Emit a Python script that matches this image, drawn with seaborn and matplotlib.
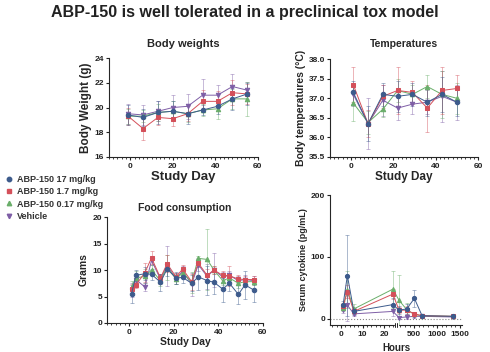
import numpy as np
import seaborn as sns
import matplotlib
matplotlib.use("Agg")
import matplotlib.pyplot as plt
from matplotlib.ticker import MultipleLocator, FixedLocator
from matplotlib.lines import Line2D

# ---- data ----
groups = ["ABP-150 17 mg/kg", "ABP-150 1.7 mg/kg", "ABP-150 0.17 mg/kg", "Vehicle"]

bw_days = [-1, 6, 13, 20, 27, 34, 41, 48, 55]
bw_17 = [19.4, 19.2, 19.6, 19.7, 19.5, 19.8, 20.1, 20.7, 21.1]
bw_1_7 = [19.3, 18.3, 19.2, 19.1, 19.5, 20.5, 20.5, 21.2, 21.1]
bw_0_17 = [19.3, 19.3, 19.6, 19.7, 19.5, 19.8, 19.9, 20.7, 20.7]
bw_veh = [19.5, 19.4, 19.7, 20.0, 20.1, 21.0, 21.0, 21.7, 21.4]
bw_err_17 = [0.8, 0.7, 0.9, 0.8, 0.8, 0.4, 0.6, 0.9, 0.9]
bw_err_1_7 = [0.7, 0.9, 0.6, 0.6, 0.6, 0.9, 0.8, 1.0, 0.8]
bw_err_0_17 = [0.6, 0.5, 0.7, 0.8, 0.7, 0.5, 0.8, 0.8, 1.4]
bw_err_veh = [0.8, 0.8, 0.8, 1.0, 1.0, 1.3, 0.8, 1.0, 0.7]

tp_days = [1, 8, 15, 22, 29, 36, 43, 50]
tp_17 = [37.15, 36.35, 37.1, 37.05, 37.1, 36.9, 37.1, 36.9]
tp_1_7 = [37.35, 36.35, 37.05, 37.2, 37.15, 36.75, 37.2, 37.25]
tp_0_17 = [36.88, 36.38, 36.72, 37.2, 37.1, 37.3, 37.1, 37.0]
tp_veh = [37.1, 36.35, 36.95, 36.75, 36.85, 36.9, 37.05, 36.9]
tp_err_17 = [0.3, 0.45, 0.3, 0.4, 0.3, 0.35, 0.45, 0.35]
tp_err_1_7 = [0.45, 0.35, 0.3, 0.6, 0.3, 0.6, 0.6, 0.35]
tp_err_0_17 = [0.45, 0.3, 0.2, 0.3, 0.25, 0.3, 0.6, 0.4]
tp_err_veh = [0.3, 0.65, 0.4, 0.3, 0.25, 0.3, 0.65, 0.45]

fd_days = [1, 3, 7, 10, 14, 17, 21, 24, 28, 31, 35, 38, 42, 45, 49, 52, 56]
fd_17 = [5.5, 9.0, 9.3, 9.2, 7.7, 10.2, 8.5, 8.6, 7.5, 8.7, 8.0, 7.7, 6.4, 7.5, 5.4, 7.2, 6.2]
fd_1_7 = [6.5, 7.2, 9.5, 12.3, 8.5, 11.2, 8.7, 10.2, 7.8, 11.3, 9.0, 10.0, 9.0, 8.9, 8.3, 8.2, 8.2]
fd_0_17 = [6.8, 8.5, 8.8, 10.0, 8.0, 10.5, 8.3, 9.5, 7.7, 12.2, 12.0, 10.0, 8.0, 8.5, 7.5, 7.8, 7.8]
fd_veh = [6.2, 8.2, 6.8, 11.8, 8.3, 10.8, 8.4, 9.8, 7.3, 11.0, 8.8, 10.0, 8.7, 9.0, 8.0, 8.2, 8.0]
fd_err_17 = [1.7, 1.0, 1.2, 1.0, 1.6, 1.3, 1.2, 1.0, 1.5, 2.5, 2.8, 2.2, 2.4, 1.4, 1.8, 2.6, 2.3]
fd_err_1_7 = [0.8, 0.6, 1.8, 1.2, 0.8, 1.6, 0.8, 0.7, 1.5, 0.8, 1.2, 0.7, 0.8, 1.9, 0.8, 0.6, 0.6]
fd_err_0_17 = [1.2, 1.3, 1.3, 1.0, 1.0, 2.4, 1.0, 1.0, 2.0, 0.5, 5.7, 0.8, 0.8, 1.0, 0.8, 0.6, 0.6]
fd_err_veh = [1.3, 1.0, 0.8, 0.8, 1.0, 3.8, 1.0, 1.0, 2.2, 1.2, 2.4, 3.2, 0.9, 0.8, 0.9, 0.8, 0.8]

ck_hours = [1, 3, 6, 24, 168, 336, 504, 672, 1344]
ck_17 = [22, 70, 12, 23, 14, 16, 33, 5, 4]
ck_1_7 = [20, 44, 12, 40, 14, 14, 8, 5, 4]
ck_0_17 = [18, 47, 16, 48, 30, 15, 7, 5, 4]
ck_veh = [15, 22, 8, 12, 2, 3, 4, 4, 3]
ck_err_17 = [6, 66, 6, 10, 6, 8, 14, 2, 2]
ck_err_1_7 = [6, 10, 5, 8, 5, 6, 3, 2, 2]
ck_err_0_17 = [6, 30, 8, 30, 41, 10, 4, 2, 2]
ck_err_veh = [5, 25, 4, 8, 3, 3, 2, 2, 2]

colors = ["#3d5b8c", "#d4505a", "#6aae6a", "#7e5ea6"]
markers = ["o", "s", "^", "v"]

sns.set_style("ticks")
plt.rcParams["font.family"] = ["Liberation Sans", "DejaVu Sans"]
plt.rcParams["font.weight"] = "bold"
plt.rcParams["axes.labelweight"] = "bold"
plt.rcParams["axes.linewidth"] = 0.8
plt.rcParams["xtick.major.size"] = 2.5
plt.rcParams["ytick.major.size"] = 2.5
plt.rcParams["xtick.minor.size"] = 1.5
plt.rcParams["xtick.major.pad"] = 1.5
plt.rcParams["ytick.major.pad"] = 1

fig = plt.figure(figsize=(4.9, 3.52), dpi=100)
fig.text(0.5, 0.965, "ABP-150 is well tolerated in a preclinical tox model",
         ha="center", va="center", fontsize=11.5, fontweight="bold", color="#222222")


def draw(ax, x, series, errs, ms=3.2):
    for i in [3, 2, 1, 0]:
        ax.errorbar(x, series[i], yerr=errs[i], fmt="none", ecolor=colors[i],
                    alpha=0.5, elinewidth=0.6, capsize=1.5, capthick=0.6, zorder=2)
        sns.lineplot(x=x, y=series[i], ax=ax, color=colors[i], marker=markers[i],
                     markersize=ms, markeredgecolor=colors[i], linewidth=0.7,
                     zorder=3, legend=False)


def style(ax, tick_fs=6):
    sns.despine(ax=ax)
    ax.tick_params(labelsize=tick_fs, colors="#222222", width=0.8)
    ax.tick_params(which="minor", width=0.6)
    for lab in ax.get_xticklabels() + ax.get_yticklabels():
        lab.set_fontweight("bold")


# Body weights
ax1 = fig.add_axes([0.2224, 0.554, 0.304, 0.281])
draw(ax1, bw_days, [bw_17, bw_1_7, bw_0_17, bw_veh],
     [bw_err_17, bw_err_1_7, bw_err_0_17, bw_err_veh])
ax1.set_xlim(-10, 60)
ax1.set_ylim(16, 24)
ax1.set_xticks([0, 20, 40, 60])
ax1.set_yticks([16, 18, 20, 22, 24])
ax1.xaxis.set_minor_locator(MultipleLocator(2))
ax1.set_title("Body weights", fontsize=8, fontweight="bold", pad=8)
ax1.set_xlabel("Study Day", fontsize=9.5, labelpad=1)
ax1.set_ylabel("Body Weight (g)", fontsize=8.5, labelpad=2)
style(ax1)

# Temperatures
ax2 = fig.add_axes([0.6735, 0.554, 0.302, 0.278])
draw(ax2, tp_days, [tp_17, tp_1_7, tp_0_17, tp_veh],
     [tp_err_17, tp_err_1_7, tp_err_0_17, tp_err_veh])
ax2.set_xlim(-10, 60)
ax2.set_ylim(35.5, 38.0)
ax2.set_xticks([0, 20, 40, 60])
ax2.set_yticks([35.5, 36.0, 36.5, 37.0, 37.5, 38.0])
ax2.set_yticklabels(["35.5", "36.0", "36.5", "37.0", "37.5", "38.0"])
ax2.xaxis.set_minor_locator(MultipleLocator(2))
ax2.set_title("Temperatures", fontsize=7.5, fontweight="bold", pad=9)
ax2.set_xlabel("Study Day", fontsize=8.5, labelpad=1)
ax2.set_ylabel("Body temperatures (°C)", fontsize=7.5, labelpad=2)
style(ax2)

# Food consumption
ax3 = fig.add_axes([0.2184, 0.0824, 0.318, 0.301])
draw(ax3, fd_days, [fd_17, fd_1_7, fd_0_17, fd_veh],
     [fd_err_17, fd_err_1_7, fd_err_0_17, fd_err_veh])
ax3.set_xlim(-10, 60)
ax3.set_ylim(0, 20)
ax3.set_xticks([0, 20, 40, 60])
ax3.set_yticks([0, 5, 10, 15, 20])
ax3.xaxis.set_minor_locator(MultipleLocator(2))
ax3.set_title("Food consumption", fontsize=7.5, fontweight="bold", pad=4)
ax3.set_xlabel("Study Day", fontsize=7.5, labelpad=1)
ax3.set_ylabel("Grams", fontsize=7.5, labelpad=3)
style(ax3)


# Serum cytokine: broken x axis (0-25 h, then 130-1550 h)
def fwd(x):
    x = np.asarray(x, dtype=float)
    return np.where(x <= 25, x, np.where(x <= 130, 25 + (x - 25) / 105.0,
                                         26 + (x - 130) * 30.0 / 1420.0))


def inv(t):
    t = np.asarray(t, dtype=float)
    return np.where(t <= 25, t, np.where(t <= 26, 25 + (t - 25) * 105.0,
                                         130 + (t - 26) * 1420.0 / 30.0))


ax4 = fig.add_axes([0.6735, 0.0767, 0.27, 0.369])
ax4.set_xscale("function", functions=(fwd, inv))
ax4.axhline(0, color="#888888", linestyle=":", linewidth=0.8, zorder=1)
draw(ax4, ck_hours, [ck_17, ck_1_7, ck_0_17, ck_veh],
     [ck_err_17, ck_err_1_7, ck_err_0_17, ck_err_veh], ms=3)
ax4.set_xlim(-5, 1550)
ax4.set_ylim(-10, 200)
ax4.xaxis.set_major_locator(FixedLocator([0, 10, 20, 500, 1000, 1500]))
ax4.xaxis.set_minor_locator(FixedLocator(list(range(-4, 25, 2)) + list(range(200, 1550, 100))))
ax4.set_yticks([0, 100, 200])
ax4.set_xlabel("Hours", fontsize=7, labelpad=4)
ax4.set_ylabel("Serum cytokine (pg/mL)", fontsize=6.5, labelpad=2)
style(ax4, tick_fs=6)
# break mark on the x spine
ax4.plot([inv(25.2), inv(25.8)], [-10, -10], color="white", linewidth=2.5,
         clip_on=False, zorder=5)
for xb in [inv(24.9), inv(26.1)]:
    ax4.plot([xb, xb], [-13, -7], color="#222222", linewidth=0.7,
             clip_on=False, zorder=6)

# legend
leg_handles = [Line2D([], [], color=colors[i], marker=markers[i], linestyle="none",
                      markersize=3.2) for i in range(4)]
fig.legend(leg_handles, groups, loc="upper left", bbox_to_anchor=(-0.005, 0.525),
           frameon=False, fontsize=6.5, handlelength=0.8, handletextpad=0.4,
           labelspacing=0.35, labelcolor="#333333")

fig.savefig("out.png", dpi=100)
